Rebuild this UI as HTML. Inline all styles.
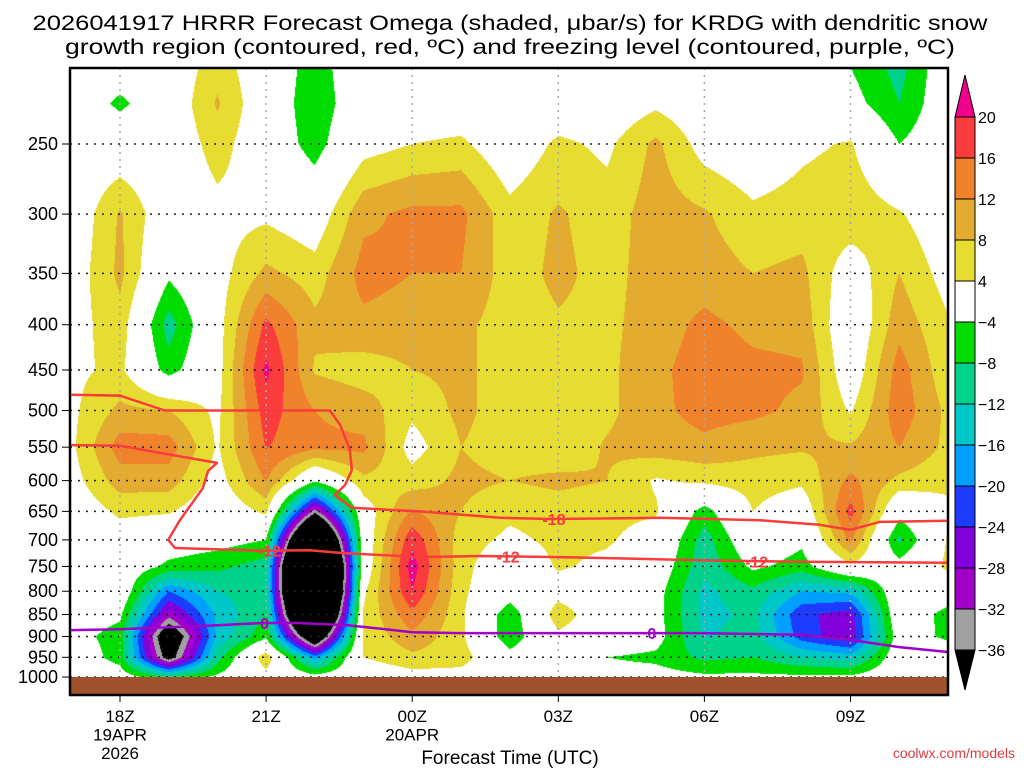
<!DOCTYPE html>
<html><head><meta charset="utf-8"><style>
html,body{margin:0;padding:0;background:#fff;}
#wrap{position:relative;width:1024px;height:768px;overflow:hidden;font-family:"Liberation Sans",sans-serif;}
canvas,svg{position:absolute;left:0;top:0;}
</style></head><body>
<div id="wrap">
<canvas id="cv" width="1024" height="768"></canvas>
<svg id="sv" width="1024" height="768" xmlns="http://www.w3.org/2000/svg">
<text x="510" y="30" text-anchor="middle" font-size="21" textLength="955" lengthAdjust="spacingAndGlyphs">2026041917 HRRR Forecast Omega (shaded, μbar/s) for KRDG with dendritic snow</text>
<text x="510" y="54" text-anchor="middle" font-size="21" textLength="890" lengthAdjust="spacingAndGlyphs">growth region (contoured, red, ºC) and freezing level (contoured, purple, ºC)</text>
<g id="grid"></g>
<g id="lines"></g>
<rect x="70" y="677" width="878" height="18" fill="#a0522d"/>
<rect x="70" y="68" width="878" height="627" fill="none" stroke="#000" stroke-width="2.5"/>
<g id="axes"></g>
<g id="cbar"></g>
<text x="510" y="764" text-anchor="middle" font-size="19">Forecast Time (UTC)</text>
<text x="1015" y="758" text-anchor="end" font-size="14" fill="#e03c3c">coolwx.com/models</text>
</svg>
</div>
<script>
// ---- data ----
const hours = [17,18,19,20,21,22,23,24,25,26,27,28,29,30,31,32,33,34,35];
const levels = [200,225,250,300,350,400,450,500,550,600,650,700,750,800,850,900,950,1000];
const omega = [
[0,0,0,0,1,2,3,3,3,2,0,0,0,0,-1,-2,0,0],
[0,-5,0,8.5,9,6.5,5,9,14,10,5,1,0,1,-3,-6,-6,-1],
[0,0,0,0,-3,-10,-6,8,14,10,4.5,-1,-5,-20,-30,-45,-40,-8],
[6,8.5,6,2.5,2,2,2,3,3.5,2,0,-2,-7,-12,-15,-15,-10,-3],
[0,0,0,3,9,17,21,18,16.2,12.2,5,-4,-10,-10,-8,-5,7,2],
[-6,-7,-6,0.5,6,9,7.5,12,13,-3,-34,-70,-90,-90,-75,-48,-18,-2],
[0,0,2,11,13.5,11,6,10,13,7,1,0,0,3,4.5,4.5,4,0],
[0,0,4,13,12,10,8,5,2,6,12.5,19,22,20,15,11,7,2],
[0,0,5,13,12,9,9,9,8,9,8,6,5.5,5,5,5,6,2],
[0,0,0,5.5,6,6,6,6,6,8,5,3,0,-1,-7,-7,-2,0],
[0,0,5,8.5,9,7.5,6,6,5,9,6,5,4.5,2,6.5,3,0,0],
[0,0,3,6,6.5,7,7,7,8.5,8,5,4.5,3,0,0,0,-4,-2],
[0,3,9,10,10,10,11,11,10,3.5,4.5,2,0,-2,-2,-2,-5,-2],
[0,0,2,8.5,10,13,14,13.5,11,5,-6,-10,-11,-13,-13.5,-12.5,-9,-3],
[0,0,0,5,8,11,13,13,9,6,4,1,-3,-9,-11,-10,-8,-3],
[0,0,3,6,9,10.5,12.5,11,8.5,5,0,-3,-6,-16,-23,-22,-12,-3],
[-4.5,-2,4.5,7,1,-1,0,3.5,8.5,13,17.5,13,3,-15,-26,-27,-14,-3],
[-10,-8,-4,4.5,8,10.5,14,14.5,12,7,-2,-9,-2,1,1,-1,0,0],
[0,0,0,0,2,4.5,5,7,7,5,3,4.5,5,0,-6,-5,0,0]
];
const cbLevels = [20,16,12,8,4,-4,-8,-12,-16,-20,-24,-28,-32,-36];
const cbColors = ["#fa3c3c","#f0822c","#e3ab30","#e6dc32","#ffffff","#00dc00","#00d28c","#00c8c8","#00a0ff","#1e3cff","#8200dc","#a000c8","#a0a0a0"];
const yTicks = [250,300,350,400,450,500,550,600,650,700,750,800,850,900,950,1000];
const xTicks = [18,21,24,27,30,33];
const xTickLabels = [["18Z","19APR","2026"],["21Z"],["00Z","20APR"],["03Z"],["06Z"],["09Z"]];
// isotherms: [hour, pressure]
const t18Hours = [17,18,18.92,22.31,22.52,22.72,22.76,22.62,22.41,22.76,24.16,25.8,26.83,29.09,31.14,32.37,32.99,33.6,35];
const t18Press = [480,481,500,500,519,554,584,607,623,644,650,661,663,661,665,673,682,668,666];
const t12Hours = [17,18,19.99,19.81,19.70,19.23,18.99,19.13,20.87,21.9,22.52,24.16,25.39,27.03,29.91,31.96,35];
const t12Press = [547,548,573,585,612,665,700,715,720,719,724,732,730,732,738,741,743];
const t0Hours = [17,18,19.64,20.93,21.65,22.68,24,24.96,27.03,29.91,31.96,33,34,35];
const t0Press = [885,883,876,869,869,874,890,892,892,892,896,908,925,937];
const labels = [["-18",26.91,663,"#fa3c3c"],["-12",21.07,720,"#fa3c3c"],["-12",25.97,731,"#fa3c3c"],["-12",31.07,740,"#fa3c3c"],["0",20.97,869,"#a000c8"],["0",28.92,892,"#a000c8"]];

// ---- axes ----
const xOf = h => 120 + (h-18)*48.7;
const yOf = p => 144 + 384.5*Math.log(p/250);

// ---- shading ----
const ctx = document.getElementById('cv').getContext('2d');
const rowY = levels.map(yOf);
function colorFor(v){
  if (v >= 20) return [240,0,140];
  if (v < -36) return [0,0,0];
  for (let i=0;i<cbLevels.length-1;i++){
    if (v < cbLevels[i] && v >= cbLevels[i+1]){
      const c = cbColors[i];
      return [parseInt(c.substr(1,2),16),parseInt(c.substr(3,2),16),parseInt(c.substr(5,2),16)];
    }
  }
  return [255,255,255];
}
const X0=70,X1=948,Y0=68,Y1=677;
const img = ctx.createImageData(X1-X0, Y1-Y0);
for (let py=Y0; py<Y1; py++){
  const yc = py+0.5;
  let r=0; while (r<rowY.length-2 && rowY[r+1] < yc) r++;
  let fy = (yc-rowY[r])/(rowY[r+1]-rowY[r]); fy=Math.max(0,Math.min(1,fy));
  for (let px=X0; px<X1; px++){
    let fh = (px+0.5 - xOf(hours[0]))/48.7;
    fh = Math.max(0, Math.min(hours.length-1.0001, fh));
    const c = Math.floor(fh), fx = fh-c;
    const v = (1-fx)*((1-fy)*omega[c][r]+fy*omega[c][r+1]) + fx*((1-fy)*omega[c+1][r]+fy*omega[c+1][r+1]);
    const col = colorFor(v);
    const k = ((py-Y0)*(X1-X0)+(px-X0))*4;
    img.data[k]=col[0]; img.data[k+1]=col[1]; img.data[k+2]=col[2]; img.data[k+3]=255;
  }
}
ctx.putImageData(img, X0, Y0);

// ---- svg overlay ----
const NS = "http://www.w3.org/2000/svg";
function mk(tag, attrs, parent){ const e=document.createElementNS(NS,tag); for(const k in attrs) e.setAttribute(k,attrs[k]); parent.appendChild(e); return e; }
const grid = document.getElementById('grid'), axes=document.getElementById('axes'), lines=document.getElementById('lines'), cbar=document.getElementById('cbar');
yTicks.forEach(p=>{
  const y=yOf(p);
  const g = mk('line',{x1:70,x2:948,y1:y,y2:y,stroke:'#222','stroke-width':1.5,'stroke-dasharray':'2,6'},grid);
  
  
  const t = mk('line',{x1:62,x2:69,y1:y,y2:y,stroke:'#000','stroke-width':1},axes);
  
  
  const tx = mk('text',{x:58,y:y+6,'text-anchor':'end','font-size':18},axes);
  tx.textContent = p;
  
  
});
xTicks.forEach((h,i)=>{
  const x=xOf(h);
  const g = mk('line',{x1:x,x2:x,y1:68,y2:677,stroke:'#aaa','stroke-width':1.5,'stroke-dasharray':'2,5'},grid);
  
  
  const t = mk('line',{x1:x,x2:x,y1:695,y2:702,stroke:'#000','stroke-width':1},axes);
  
  
  xTickLabels[i].forEach((s,j)=>{
    const tx = mk('text',{x:x,y:722+j*18.5,'text-anchor':'middle','font-size':17},axes);
    tx.textContent = s;
    
    
  });
});
function drawLine(hs, ps, color, name){
  const pts = hs.map((h,i)=>xOf(h).toFixed(1)+','+yOf(ps[i]).toFixed(1)).join(' ');
  const l = mk('polyline',{points:pts,fill:'none',stroke:color,'stroke-width':2.5,'stroke-linejoin':'round'},lines);
  
  
}
drawLine(t18Hours,t18Press,'#fa3c3c','isotherm-minus-18');
drawLine(t12Hours,t12Press,'#fa3c3c','isotherm-minus-12');
drawLine(t0Hours,t0Press,'#a000c8','freezing-level-0');
labels.forEach(L=>{
  const x=xOf(L[1]), y=yOf(L[2]);
  const t = mk('text',{x:x,y:y+6,'text-anchor':'middle','font-size':16,'font-weight':'bold',fill:L[3]},lines);
  t.textContent = L[0];
  
  
});
// colorbar
const cbTop=117, cbStep=41, cbX=955, cbW=20;
const tri1 = mk('polygon',{points:`${cbX},${cbTop} ${cbX+cbW},${cbTop} ${cbX+cbW/2},75`,fill:'#f0008c',stroke:'#000','stroke-width':1},cbar);


cbColors.forEach((c,i)=>{
  const r = mk('rect',{x:cbX,y:cbTop+i*cbStep,width:cbW,height:cbStep,fill:c,stroke:'#000','stroke-width':1},cbar);
  
  
});
const yb = cbTop+cbColors.length*cbStep;
const tri2 = mk('polygon',{points:`${cbX},${yb} ${cbX+cbW},${yb} ${cbX+cbW/2},${yb+40}`,fill:'#000',stroke:'#000','stroke-width':1},cbar);


cbLevels.forEach((v,i)=>{
  const t = mk('text',{x:978,y:cbTop+i*cbStep+6,'font-size':16},cbar);
  t.textContent = v<0 ? '\u2212'+Math.abs(v) : String(v);
  
  
});
</script>
</body></html>
